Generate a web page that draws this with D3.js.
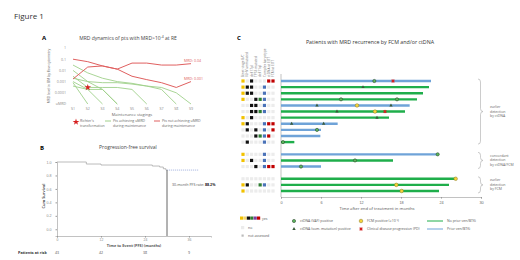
<!DOCTYPE html>
<html><head><meta charset="utf-8">
<script src="https://cdn.jsdelivr.net/npm/d3@7"></script>
<style>
body{margin:0;background:#fff;}
svg{font-family:"Open Sans","Liberation Sans",sans-serif;}
</style></head><body>
<svg id="fig" width="520" height="260"></svg>
<script>
// ---- panel A data
const U = 0.00001;
const stagings = ["S1","S2","S3","S4","S5","S6","S7","S8","S9"];
const mrdTicks = [1, 0.1, 0.01, 0.001, 0.0001, U];
const mrdTickLabels = ["1","0.1","0.01","0.001","0.0001","uMRD"];
const greenSeries = [
  [0.03, 0.006, 0.002, 0.001, 0.0007, 0.0004, 0.0003, 0.0001, U],
  [0.01, 0.001, 0.0002, U],
  [0.003, 0.0003, 0.0003, 0.0003, 0.0002, U],
  [0.001, 0.0002, 0.0002, U],
  [0.0008, U],
  [0.0004, 0.0002, U],
  [0.002, 0.001, 0.0008, 0.0008, 0.0006, 0.0004, 0.0002, U]
];
const redSeries = [
  [0.1, 0.06, 0.025, 0.013, 0.003, 0.0015, 0.0008, 0.0003, 0.001],
  [0.0017, 0.02, 0.025, 0.013, 0.045, 0.045, 0.03, 0.03, 0.04]
];
const redLabels = ["MRD: 0.001", "MRD: 0.04"];
const richterStage = "S2", richterMrd = 0.0003;

// ---- panel B data
const kmTimes = [0, 8, 12, 26, 28, 29, 29.7, 30];
const kmSurv = [1, 0.97, 0.955, 0.94, 0.925, 0.9, 0.88, 0.88];
const censorTimes = [30, 38.5];
const survTicks = [0, 0.2, 0.4, 0.6, 0.8, 1.0];
const riskTimes = [0, 12, 24, 36];
const riskCounts = ["43", "42", "38", "9"];
const pfsRate = "88.2%";

// ---- panel C data
const colHeaders = ["Binet stage B/C", "IGHV unmutated", "del(17p)", "TP53 mutated", "del(11q)", "Complex karyotype", "ctDNA at EOT", "FCM at EOT"];
const colColors = ["#f2c200", "#111", "#111", "#111", "#2e7d32", "#4a72b8", "#c00000", "#c00000"];
const patientFlags = [
  "10100011", "11100100", "11100100", "10011100", "00110100", "00111100",
  "10100000", "11000111", "01010101", "00011110", "01000100",
  "10000100", "10100100", "00010111",
  "00000000", "11001100", "10000000"
];
const groups = ["ctDNA", "ctDNA", "ctDNA", "ctDNA", "ctDNA", "ctDNA", "ctDNA", "ctDNA", "ctDNA", "ctDNA", "ctDNA",
  "both", "both", "both", "FCM", "FCM", "FCM"];
const followUp = [22.5, 22.2, 21.3, 20.4, 19.3, 18.6, 16.2, 8.5, 6, 5.9, 2, 23.5, 16.8, 6, 26.2, 25.2, 23.7];
const priorVen = [1, 0, 0, 0, 1, 0, 0, 1, 1, 1, 0, 1, 0, 1, 0, 0, 0];
const eventRow = [0, 0, 1, 3, 3, 4, 4, 4, 5, 5, 5, 6, 7, 7, 8, 10, 11, 12, 13, 14, 15, 16];
const eventMonth = [14, 16.8, 12.3, 9, 17.4, 5.4, 11.4, 16.5, 8.4, 14.1, 15.6, 14.4, 1.6, 6.4, 5.4, 0.3, 23.5, 11.1, 3, 26.2, 17.3, 18.1];
const eventType = ["vaf", "pd", "mut", "vaf", "vaf", "mut", "fcm", "mut", "mut", "fcm", "pd", "mut", "mut", "mut", "vaf", "vaf", "vaf", "vaf", "vaf", "fcm", "fcm", "fcm"];
const groupLabels = [["earlier", "detection", "by ctDNA"], ["concordant", "detection", "by ctDNA/FCM"], ["earlier", "detection", "by FCM"]];
const monthTicks = [0, 6, 12, 18, 24, 30];

const svg = d3.select("#fig");
svg.append("rect").attr("width", 520).attr("height", 260).attr("fill", "white");

const tickGray = "#8a8a8a";
const redC = "#e06060", greenC = "#9fd08a";

svg.append("text").attr("x", 14).attr("y", 19).attr("font-size", 8).attr("fill", "#333").text("Figure 1");

// ================= Panel A
const xA = d3.scalePoint().domain(stagings).range([73, 191]);
const yA = d3.scaleLog().domain([U, 1]).range([104, 48]);

svg.append("text").attr("x", 42).attr("y", 40).attr("font-size", 6).attr("font-weight", "bold").text("A");
const titleA = svg.append("text").attr("x", 128).attr("y", 40).attr("text-anchor", "middle").attr("font-size", 5).attr("fill", "#444");
titleA.append("tspan").text("MRD dynamics of pts with MRD>10");
titleA.append("tspan").attr("dy", -2).attr("font-size", 3.5).text("-4");
titleA.append("tspan").attr("dy", 2).text(" at RE");

svg.append("g").selectAll("text").data(mrdTicks).join("text")
  .attr("x", 66).attr("y", d => yA(d) + 1.3).attr("text-anchor", "end")
  .attr("font-size", 3.6).attr("fill", tickGray)
  .text((d, i) => mrdTickLabels[i]);
svg.append("g").selectAll("text").data(stagings).join("text")
  .attr("x", d => xA(d)).attr("y", 109.5).attr("text-anchor", "middle")
  .attr("font-size", 3.6).attr("fill", tickGray).text(d => d);
svg.append("text").attr("x", 132).attr("y", 115.5).attr("text-anchor", "middle").attr("font-size", 4).attr("fill", "#666")
  .text("Maintenance stagings");
svg.append("text").attr("transform", "translate(50,76) rotate(-90)").attr("text-anchor", "middle")
  .attr("font-size", 3.4).attr("fill", "#666").text("MRD level in BM by flow cytometry");

const lineA = d3.line().x((d, i) => xA(stagings[i])).y(d => yA(d));
svg.append("g").selectAll("path").data(greenSeries).join("path")
  .attr("d", lineA).attr("fill", "none").attr("stroke", greenC).attr("stroke-width", 0.9);
svg.append("g").selectAll("path").data(redSeries).join("path")
  .attr("d", lineA).attr("fill", "none").attr("stroke", redC).attr("stroke-width", 1);
svg.append("g").selectAll("text").data(redSeries).join("text")
  .attr("x", 184).attr("y", d => yA(d[d.length - 1]) - 2)
  .attr("font-size", 3.6).attr("fill", redC).text((d, i) => redLabels[i]);

const star = d3.symbol().type(d3.symbolStar).size(14);
svg.append("path").attr("d", star()).attr("transform", `translate(${xA(richterStage)},${yA(richterMrd)})`).attr("fill", "#d62020");

// legend A
svg.append("path").attr("d", star()).attr("transform", "translate(76,122)").attr("fill", "#d62020");
["Richter's", "transformation"].forEach((s, i) =>
  svg.append("text").attr("x", 80).attr("y", 122 + i * 4.5).attr("font-size", 3.5).attr("fill", "#666").text(s));
svg.append("line").attr("x1", 105).attr("x2", 111).attr("y1", 121).attr("y2", 121).attr("stroke", greenC);
["Pts achieving uMRD", "during maintenance"].forEach((s, i) =>
  svg.append("text").attr("x", 113).attr("y", 122 + i * 4.5).attr("font-size", 3.5).attr("fill", "#666").text(s));
svg.append("line").attr("x1", 154).attr("x2", 160).attr("y1", 121).attr("y2", 121).attr("stroke", redC);
["Pts not achieving uMRD", "during maintenance"].forEach((s, i) =>
  svg.append("text").attr("x", 162).attr("y", 122 + i * 4.5).attr("font-size", 3.5).attr("fill", "#666").text(s));

// ================= Panel B
const xB = d3.scaleLinear().domain([0, 42]).range([57, 211]);
const yB = d3.scaleLinear().domain([-0.1, 1]).range([236, 162]);

svg.append("text").attr("x", 40).attr("y", 150).attr("font-size", 6).attr("font-weight", "bold").text("B");
svg.append("text").attr("x", 128).attr("y", 149).attr("text-anchor", "middle").attr("font-size", 5).attr("fill", "#444")
  .text("Progression-free survival");

const axB = svg.append("g").attr("color", "#999");
axB.append("g").attr("transform", "translate(0,236)")
  .call(d3.axisBottom(xB).tickValues(riskTimes).tickSize(1.5).tickPadding(0.8))
  .call(g => g.selectAll("text").attr("fill", tickGray).attr("font-size", 3.4).attr("font-family", null));
axB.append("g").attr("transform", "translate(57,0)")
  .call(d3.axisLeft(yB).tickValues(survTicks).tickFormat(d3.format(".1f")).tickSize(1.5).tickPadding(4))
  .call(g => g.selectAll("text").attr("fill", tickGray).attr("font-size", 3.6).attr("font-family", null));
axB.selectAll(".domain").attr("stroke-width", 0.6);

svg.append("text").attr("x", 134).attr("y", 246.5).attr("text-anchor", "middle").attr("font-size", 3.8).attr("fill", "#555")
  .attr("font-weight", "bold").text("Time to Event (PFS) (months)");
svg.append("text").attr("transform", "translate(45,196) rotate(-90)").attr("text-anchor", "middle")
  .attr("font-size", 3.8).attr("fill", "#555").attr("font-weight", "bold").text("Cum Survival");

const kmLine = d3.line().curve(d3.curveStepAfter).x(d => xB(d[0])).y(d => yB(d[1]));
svg.append("path").attr("d", kmLine(kmTimes.map((t, i) => [t, kmSurv[i]])))
  .attr("fill", "none").attr("stroke", "#aaa").attr("stroke-width", 0.8);
const lastS = kmSurv[kmSurv.length - 1];
svg.append("path").attr("d", kmLine(censorTimes.map(t => [t, lastS])))
  .attr("fill", "none").attr("stroke", "#7a8fd0").attr("stroke-width", 0.6).attr("stroke-dasharray", "1.2,0.8");
svg.append("line").attr("x1", xB(30)).attr("x2", xB(30)).attr("y1", yB(lastS)).attr("y2", 236)
  .attr("stroke", "#666").attr("stroke-width", 1);
const rateT = svg.append("text").attr("x", xB(30) + 5).attr("y", 186).attr("font-size", 3.6).attr("fill", "#555");
rateT.append("tspan").text("30-month PFS rate: ");
rateT.append("tspan").attr("font-weight", "bold").attr("fill", "#222").text(pfsRate);

svg.append("text").attr("x", 18).attr("y", 254).attr("font-size", 3.8).attr("font-weight", "bold").attr("fill", "#333").text("Patients at risk");
svg.append("g").selectAll("text").data(riskTimes).join("text")
  .attr("x", d => xB(d)).attr("y", 254).attr("text-anchor", "middle").attr("font-size", 3.6).attr("fill", "#555")
  .text((d, i) => riskCounts[i]);

// ================= Panel C
svg.append("text").attr("x", 237).attr("y", 40).attr("font-size", 6).attr("font-weight", "bold").text("C");
svg.append("text").attr("x", 370).attr("y", 44).attr("text-anchor", "middle").attr("font-size", 5.3).attr("fill", "#333")
  .text("Patients with MRD recurrence by FCM and/or ctDNA");

// rows with a spacer slot between groups
const slots = [];
groups.forEach((g, i) => {
  if (i > 0 && g !== groups[i - 1]) slots.push("gap" + i);
  slots.push("p" + i);
});
const yC = d3.scalePoint().domain(slots).range([81, 191]);
const xC = d3.scaleLinear().domain([0, 30]).range([281, 481]);
const colX = d3.scalePoint().domain(d3.range(colHeaders.length)).range([243, 273]);

svg.append("g").selectAll("text").data(colHeaders).join("text")
  .attr("transform", (d, i) => `translate(${colX(i) + 1.2},77) rotate(-90)`)
  .attr("font-size", 3.2).attr("fill", "#777").text(d => d);

const cells = [];
patientFlags.forEach((f, r) => f.split("").forEach((v, c) => cells.push({ r, c, v })));
svg.append("g").selectAll("rect").data(cells).join("rect")
  .attr("x", d => colX(d.c) - 1.6).attr("y", d => yC("p" + d.r) - 1.6)
  .attr("width", 3.2).attr("height", 3.2)
  .attr("fill", d => d.v === "1" ? colColors[d.c] : "#ececec");

// axes C
svg.append("line").attr("x1", 281).attr("x2", 281).attr("y1", 74).attr("y2", 197).attr("stroke", "#999").attr("stroke-width", 0.6);
svg.append("g").attr("transform", "translate(0,197)").attr("color", "#999")
  .call(d3.axisBottom(xC).tickValues(monthTicks).tickSize(1.5).tickPadding(2.5))
  .call(g => g.selectAll("text").attr("fill", "#666").attr("font-size", 3.8).attr("font-family", null))
  .call(g => g.select(".domain").attr("stroke-width", 0.6));
svg.append("text").attr("x", 377).attr("y", 210).attr("text-anchor", "middle").attr("font-size", 4.2).attr("fill", "#555")
  .text("Time after end of treatment in months");

svg.append("g").selectAll("line").data(followUp).join("line")
  .attr("x1", xC(0)).attr("x2", d => xC(d))
  .attr("y1", (d, i) => yC("p" + i)).attr("y2", (d, i) => yC("p" + i))
  .attr("stroke", (d, i) => priorVen[i] ? "#6fa3d8" : "#1fae4b").attr("stroke-width", 2.4);

function drawMarker(g, type, x, y) {
  if (type === "vaf") g.append("circle").attr("cx", x).attr("cy", y).attr("r", 1.6).attr("fill", "#5cb85c").attr("stroke", "#2d4a2d").attr("stroke-width", 0.6);
  else if (type === "fcm") g.append("circle").attr("cx", x).attr("cy", y).attr("r", 1.8).attr("fill", "#f5d33a").attr("stroke", "#8a7a20").attr("stroke-width", 0.5);
  else if (type === "mut") g.append("path").attr("d", d3.symbol().type(d3.symbolTriangle).size(5)()).attr("transform", `translate(${x},${y})`).attr("fill", "#3a5a3a");
  else g.append("path").attr("d", d3.symbol().type(d3.symbolCross).size(8)()).attr("transform", `translate(${x},${y}) rotate(45)`).attr("fill", "#d32020");
}
const mk = svg.append("g");
eventRow.forEach((r, i) => drawMarker(mk, eventType[i], xC(eventMonth[i]), yC("p" + r)));

// braces
const groupNames = Array.from(new Set(groups));
groupNames.forEach((gname, gi) => {
  const idx = groups.map((g, i) => g === gname ? i : -1).filter(i => i >= 0);
  const y0 = yC("p" + idx[0]) - 2, y1 = yC("p" + idx[idx.length - 1]) + 2, ym = (y0 + y1) / 2, x = 478, w = 5;
  svg.append("path")
    .attr("d", `M${x},${y0} Q${x + w / 2},${y0} ${x + w / 2},${y0 + 3} L${x + w / 2},${ym - 3} Q${x + w / 2},${ym} ${x + w},${ym} Q${x + w / 2},${ym} ${x + w / 2},${ym + 3} L${x + w / 2},${y1 - 3} Q${x + w / 2},${y1} ${x},${y1}`)
    .attr("fill", "none").attr("stroke", "#aaa").attr("stroke-width", 0.6);
  groupLabels[gi].forEach((s, k) =>
    svg.append("text").attr("x", 490).attr("y", ym - 3.5 + k * 4.5).attr("font-size", 3.5).attr("fill", "#666").text(s));
});

// legend C
const legC = [["vaf", "ctDNA (VAF) positive", 294, 221], ["mut", "ctDNA (som. mutation) positive", 294, 229],
  ["fcm", "FCM positive (\u226510\u207B\u2074)", 361, 221], ["pd", "Clinical disease progression (PD)", 361, 229]];
legC.forEach(l => {
  drawMarker(svg, l[0], l[2], l[3]);
  svg.append("text").attr("x", l[2] + 6).attr("y", l[3] + 1.2).attr("font-size", 3.5).attr("fill", "#555").text(l[1]);
});
[["#1fae4b", "No prior ven/BTKi", 221], ["#6fa3d8", "Prior ven/BTKi", 229]].forEach(l => {
  svg.append("line").attr("x1", 427).attr("x2", 443).attr("y1", l[2]).attr("y2", l[2]).attr("stroke", l[0]).attr("stroke-width", 1);
  svg.append("text").attr("x", 447).attr("y", l[2] + 1.2).attr("font-size", 3.5).attr("fill", "#555").text(l[1]);
});
const yesColors = ["#f2c200", "#f5d76e", "#111", "#2e7d32", "#7b3f9e", "#c00000"];
svg.append("g").selectAll("rect").data(yesColors).join("rect")
  .attr("x", (d, i) => 240 + i * 3.4).attr("y", 216.5).attr("width", 3.2).attr("height", 3.2).attr("fill", d => d);
svg.append("text").attr("x", 262).attr("y", 219.5).attr("font-size", 3.5).attr("fill", "#555").text("yes");
svg.append("rect").attr("x", 241).attr("y", 226).attr("width", 3.2).attr("height", 3.2).attr("fill", "#ececec");
svg.append("text").attr("x", 248).attr("y", 229).attr("font-size", 3.5).attr("fill", "#555").text("no");
svg.append("rect").attr("x", 241.5).attr("y", 234.5).attr("width", 2.2).attr("height", 2.2).attr("fill", "#bbb");
svg.append("text").attr("x", 248).attr("y", 237).attr("font-size", 3.5).attr("fill", "#555").text("not assessed");
</script>
</body></html>
